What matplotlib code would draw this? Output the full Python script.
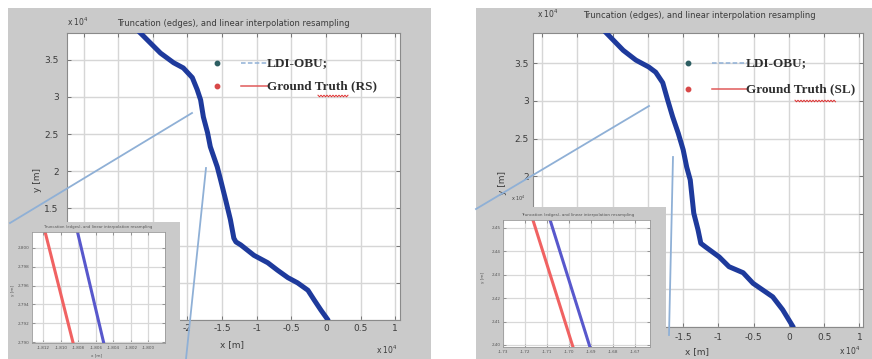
import matplotlib
matplotlib.use("Agg")
import matplotlib.pyplot as plt
from matplotlib.lines import Line2D
from matplotlib.patches import Rectangle
import numpy as np

# ---------------- data (units of 10^4 m) ----------------
left_x = [-2.78, -2.68, -2.39, -2.20, -2.06, -1.93, -1.86, -1.81, -1.77, -1.71, -1.67,
          -1.57, -1.52, -1.45, -1.38, -1.33, -1.30, -1.23, -1.04, -0.84, -0.70, -0.55,
          -0.41, -0.26, -0.17, -0.07, 0.03]
left_y = [3.95, 3.86, 3.59, 3.46, 3.39, 3.26, 3.10, 2.96, 2.73, 2.52, 2.33,
          2.06, 1.88, 1.62, 1.35, 1.10, 1.05, 1.01, 0.87, 0.77, 0.67, 0.57,
          0.50, 0.40, 0.27, 0.13, 0.00]

right_x = [-2.70, -2.60, -2.35, -2.17, -1.99, -1.89, -1.79, -1.72, -1.65, -1.57, -1.50,
           -1.45, -1.40, -1.35, -1.29, -1.25, -1.18, -0.99, -0.85, -0.65, -0.51, -0.37,
           -0.23, -0.09, 0.06]
right_y = [4.00, 3.91, 3.67, 3.54, 3.45, 3.38, 3.24, 3.01, 2.79, 2.57, 2.35,
           2.12, 1.95, 1.51, 1.29, 1.11, 1.06, 0.93, 0.80, 0.72, 0.58, 0.49,
           0.40, 0.23, 0.00]

main_xticks = [-3.5, -3.0, -2.5, -2.0, -1.5, -1.0, -0.5, 0.0, 0.5, 1.0]
main_yticks = [0.0, 0.5, 1.0, 1.5, 2.0, 2.5, 3.0, 3.5]

# inset (zoomed) data
inL_xticks = [-1.812, -1.810, -1.808, -1.806, -1.804, -1.802, -1.800]
inL_yticks = [2.790, 2.792, 2.794, 2.796, 2.798, 2.800]
inL_gt_x = [-1.8118, -1.8086]
inL_ldi_x = [-1.8081, -1.8051]
inL_y = [2.8017, 2.7899]

inR_xticks = [-1.73, -1.72, -1.71, -1.70, -1.69, -1.68, -1.67]
inR_yticks = [2.40, 2.41, 2.42, 2.43, 2.44, 2.45]
inR_gt_x = [-1.7164, -1.6982]
inR_ldi_x = [-1.7086, -1.6905]
inR_y = [2.4534, 2.3991]

title = "Truncation (edges), and linear interpolation resampling"
legend_left = ["LDI-OBU;", "Ground Truth (RS)"]
legend_right = ["LDI-OBU;", "Ground Truth (SL)"]

# ---------------- layout helpers ----------------
W, H = 872, 359
fig = plt.figure(figsize=(W / 100, H / 100), dpi=100)
fig.patch.set_facecolor("white")

def R(x0, y0, x1, y1):
    return [x0 / W, 1 - y1 / H, (x1 - x0) / W, (y1 - y0) / H]

def P(x, y):
    return (x / W, 1 - y / H)

GRAY = "#cacaca"
TXT = "#3c3c3c"
CURVE = "#1e3a9c"
LBLUE = "#8fb0d6"

# panel backgrounds
for (x0, y0, x1, y1) in [(8, 8, 431, 359), (476, 8, 872, 359)]:
    fig.add_artist(Rectangle(P(x0, y1), (x1 - x0) / W, (y1 - y0) / H,
                             transform=fig.transFigure, facecolor=GRAY,
                             edgecolor="none", zorder=-5))

def fmt(v):
    return f"{v:g}"

def style_main(ax, xlim, ylim, ypad, xpad):
    ax.set_facecolor("white")
    ax.set_xlim(*xlim)
    ax.set_ylim(*ylim)
    ax.set_xticks(main_xticks)
    ax.set_xticklabels([fmt(v) for v in main_xticks])
    ax.set_yticks(main_yticks)
    ax.set_yticklabels([fmt(v) for v in main_yticks])
    ax.grid(True, color="#d6d6d6", lw=1.0)
    ax.set_axisbelow(True)
    ax.tick_params(direction="in", length=3, width=0.6, colors="#666666",
                   labelcolor=TXT, labelsize=6.5, top=True, right=True)
    ax.tick_params(axis="y", pad=ypad)
    ax.tick_params(axis="x", pad=xpad)
    for s in ax.spines.values():
        s.set_color("#8a8a8a")
        s.set_linewidth(0.8)

def style_inset(ax, xticks, yticks, xlim, ylim, xfmt, yfmt):
    ax.set_facecolor("white")
    ax.set_xlim(*xlim)
    ax.set_ylim(*ylim)
    ax.set_xticks(xticks)
    ax.set_xticklabels([xfmt.format(v) for v in xticks])
    ax.set_yticks(yticks)
    ax.set_yticklabels([yfmt.format(v) for v in yticks])
    ax.grid(True, color="#d8d8d8", lw=0.9)
    ax.set_axisbelow(True)
    ax.tick_params(direction="in", length=2, width=0.5, colors="#777777",
                   labelcolor="#555555", labelsize=3, pad=2, top=True, right=True)
    for s in ax.spines.values():
        s.set_color("#999999")
        s.set_linewidth(0.6)

# ---------------- left panel ----------------
axL = fig.add_axes(R(67, 33, 400, 320))
style_main(axL, (-3.74, 1.07), (0, 3.86), ypad=6, xpad=3)
axL.plot(left_x, left_y, color=CURVE, lw=3.6, solid_capstyle="round", zorder=3)

fig.text(*P(233, 23), title, ha="center", va="center", fontsize=6, color=TXT)
fig.text(*P(67, 22), r"x 10$^{4}$", ha="left", va="center", fontsize=5.5, color=TXT)
fig.text(*P(232, 345), "x [m]", ha="center", va="center", fontsize=6.5, color=TXT)
fig.text(*P(387, 350), r"x 10$^{4}$", ha="center", va="center", fontsize=5.5, color=TXT)
fig.text(*P(37, 180), "y [m]", ha="center", va="center", rotation=90, fontsize=6.5, color=TXT)

# ---------------- right panel ----------------
axR = fig.add_axes(R(533, 33, 863, 327))
style_main(axR, (-3.63, 1.05), (0, 3.90), ypad=3, xpad=4)
axR.plot(right_x, right_y, color=CURVE, lw=3.6, solid_capstyle="round", zorder=3)

fig.text(*P(699, 15), title, ha="center", va="center", fontsize=6, color=TXT)
fig.text(*P(537, 14), r"x 10$^{4}$", ha="left", va="center", fontsize=5.5, color=TXT)
fig.text(*P(697, 352), "x [m]", ha="center", va="center", fontsize=6.5, color=TXT)
fig.text(*P(850, 351), r"x 10$^{4}$", ha="center", va="center", fontsize=5.5, color=TXT)
fig.text(*P(502, 183), "y [m]", ha="center", va="center", rotation=90, fontsize=6.5, color=TXT)

# ---------------- legends (drawn as in the screenshot) ----------------
def draw_legend(dot_x, line_x0, line_x1, text_x, rows, labels):
    styles = [("#2d5e62", LBLUE, (0, (3, 1.5))), ("#d84848", "#e05a5a", "-")]
    for (yy, lab, (dc, lc, ls)) in zip(rows, labels, styles):
        fig.add_artist(Line2D([dot_x / W], [1 - yy / H], transform=fig.transFigure,
                              marker="o", ms=3.2, color=dc, lw=0, zorder=6))
        fig.add_artist(Line2D([line_x0 / W, line_x1 / W], [1 - yy / H, 1 - yy / H],
                              transform=fig.transFigure, color=lc, lw=1.1,
                              linestyle=ls, zorder=6))
        fig.text(*P(text_x, yy), lab, ha="left", va="center", fontsize=9.5,
                 family="Liberation Serif", weight="bold", color="#2e2e2e", zorder=7)

draw_legend(217, 241, 268, 267, [63, 86], legend_left)
draw_legend(688, 712, 747, 746, [63, 89], legend_right)

def squiggle(x0, x1, y):
    xs = np.arange(x0, x1 + 0.1, 1.5)
    ys = y + np.where(np.arange(len(xs)) % 2 == 0, -0.8, 0.8)
    fig.add_artist(Line2D(xs / W, 1 - ys / H, transform=fig.transFigure,
                          color="#e03030", lw=0.7, zorder=7))

squiggle(318, 348, 96)
squiggle(795, 836, 101)

# ---------------- insets ----------------
def inset_panel(x0, y0, x1, y1):
    a = fig.add_axes(R(x0, y0, x1, y1))
    a.set_facecolor(GRAY)
    a.set_xticks([]); a.set_yticks([])
    for s in a.spines.values():
        s.set_visible(False)
    return a

inset_panel(8, 222, 180, 359)
inL = fig.add_axes(R(32, 232, 165, 343))
style_inset(inL, inL_xticks, inL_yticks, (-1.8133, -1.7981), (2.7899, 2.8017),
            "{:.3f}", "{:.3f}")
inL.plot(inL_gt_x, inL_y, color="#f06262", lw=2.2)
inL.plot(inL_ldi_x, inL_y, color="#5858cc", lw=2.2)
fig.text(*P(98, 227), title, ha="center", va="center", fontsize=2.8, color="#555555")
fig.text(*P(13, 290), "y [m]", ha="center", va="center", rotation=90, fontsize=3, color="#555555")
fig.text(*P(97, 355), "x [m]", ha="center", va="center", fontsize=3, color="#555555")

inset_panel(476, 207, 666, 359)
inR = fig.add_axes(R(503, 220, 650, 347))
style_inset(inR, inR_xticks, inR_yticks, (-1.73, -1.6632), (2.3991, 2.4534),
            "{:.2f}", "{:.2f}")
inR.plot(inR_gt_x, inR_y, color="#f06262", lw=2.2)
inR.plot(inR_ldi_x, inR_y, color="#5858cc", lw=2.2)
fig.text(*P(578, 215), title, ha="center", va="center", fontsize=3.0, color="#555555")
fig.text(*P(518, 203), r"x 10$^{4}$", ha="center", va="bottom", fontsize=3.5, color="#444444")
fig.text(*P(483, 277), "y [m]", ha="center", va="center", rotation=90, fontsize=3, color="#555555")

# ---------------- zoom connector lines ----------------
for (xa, ya, xb, yb) in [(10, 223, 192, 113), (206, 168, 186, 359),
                         (476, 209, 649, 106), (673, 157, 669, 335)]:
    fig.add_artist(Line2D([xa / W, xb / W], [1 - ya / H, 1 - yb / H],
                          transform=fig.transFigure, color=LBLUE, lw=1.3, zorder=5))

fig.savefig("out.png", dpi=100)
